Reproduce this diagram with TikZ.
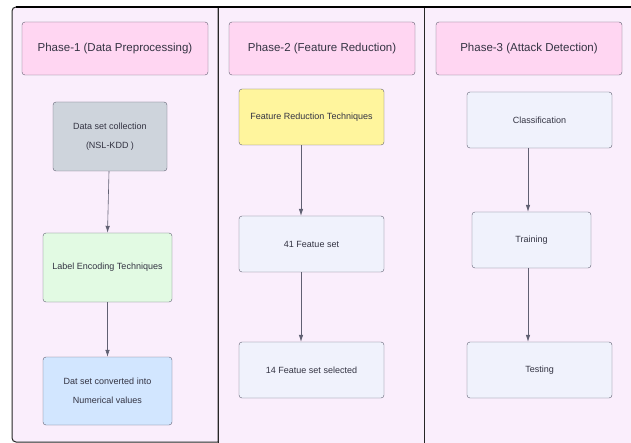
\documentclass[tikz,border=0pt]{standalone}
\usepackage{fontspec}
\setmainfont{Liberation Sans}
\usetikzlibrary{arrows.meta}

\definecolor{lanebg}{HTML}{FAEEFC}
\definecolor{headfill}{HTML}{FFD6F2}
\definecolor{grayfill}{HTML}{CED4DC}
\definecolor{greenfill}{HTML}{E2FAE3}
\definecolor{bluefill}{HTML}{D2E6FF}
\definecolor{yellowfill}{HTML}{FFF59D}
\definecolor{palefill}{HTML}{F0F2FC}
\definecolor{boxline}{HTML}{606072}
\definecolor{txt}{HTML}{333342}

\tikzset{
  lane/.style={fill=lanebg, draw=black!85, line width=1pt},
  phasehead/.style={draw=boxline, fill=headfill, rounded corners=3pt, text=txt,
    minimum width=186pt, minimum height=53pt, font=\fontsize{11.5}{14}\selectfont},
  stepbox/.style={draw=boxline, rounded corners=3pt, text=txt, align=center,
    minimum height=56pt, font=\fontsize{9}{19}\selectfont},
  flow/.style={draw=boxline, line width=0.6pt, -{Latex[length=7pt,width=4.5pt]}}
}

\begin{document}
\begin{tikzpicture}[x=1pt,y=-1pt]
  \useasboundingbox (0,0) rectangle (631,443);
  \clip (0,0) rectangle (631,443);

  %lanes
  \draw[lane] (218,442) -- (218,7) [rounded corners=4pt] -- (12,7) -- (12,442) [sharp corners] -- cycle;
  \draw[lane] (218,7) rectangle (424,460);
  \draw[lane] (424,7) rectangle (650,460);
  \draw[line width=1.8pt, black] (16,7) -- (650,7);

  %headers
  \node[phasehead] (ph1) at (115,48.5) {Phase-1 (Data Preprocessing)};
  \node[phasehead] (ph2) at (322,48.5) {Phase-2 (Feature Reduction)};
  \node[phasehead] (ph3) at (529,48.5) {Phase-3 (Attack Detection)};

  %phase 1
  \node[stepbox, fill=grayfill, minimum width=114pt, minimum height=69pt] (collect) at (110,136.5) {Data set collection\\(NSL-KDD )};
  \node[stepbox, fill=greenfill, minimum width=129pt, minimum height=69pt] (encode) at (107.5,267.5) {Label Encoding Techniques};
  \node[stepbox, fill=bluefill, minimum width=129pt, minimum height=68pt] (numeric) at (107.5,391) {Dat set converted into\\Numerical values};
  \draw[flow] ([xshift=-1pt]collect.south) -- (encode.north);
  \draw[flow] (encode) -- (numeric);

  %phase 2
  \node[stepbox, fill=yellowfill, minimum width=145pt] (frt) at (311.5,117) {Feature Reduction Techniques};
  \node[stepbox, fill=palefill, minimum width=145pt] (fs41) at (311.5,244) {41 Featue set};
  \node[stepbox, fill=palefill, minimum width=145pt] (fs14) at (311.5,370) {14 Featue set selected};
  \draw[flow] ([xshift=-10.5pt]frt.south) -- ([xshift=-10.5pt]fs41.north);
  \draw[flow] ([xshift=-10.5pt]fs41.south) -- ([xshift=-10.5pt]fs14.north);

  %phase 3
  \node[stepbox, fill=palefill, minimum width=145pt] (classif) at (539.5,120) {Classification};
  \node[stepbox, fill=palefill, minimum width=119pt] (train) at (531.5,240) {Training};
  \node[stepbox, fill=palefill, minimum width=145pt] (test) at (539.5,370) {Testing};
  \draw[flow] ([xshift=-11.5pt]classif.south) -- ([xshift=-3.5pt]train.north);
  \draw[flow] ([xshift=-3.5pt]train.south) -- ([xshift=-11.5pt]test.north);
\end{tikzpicture}
\end{document}
